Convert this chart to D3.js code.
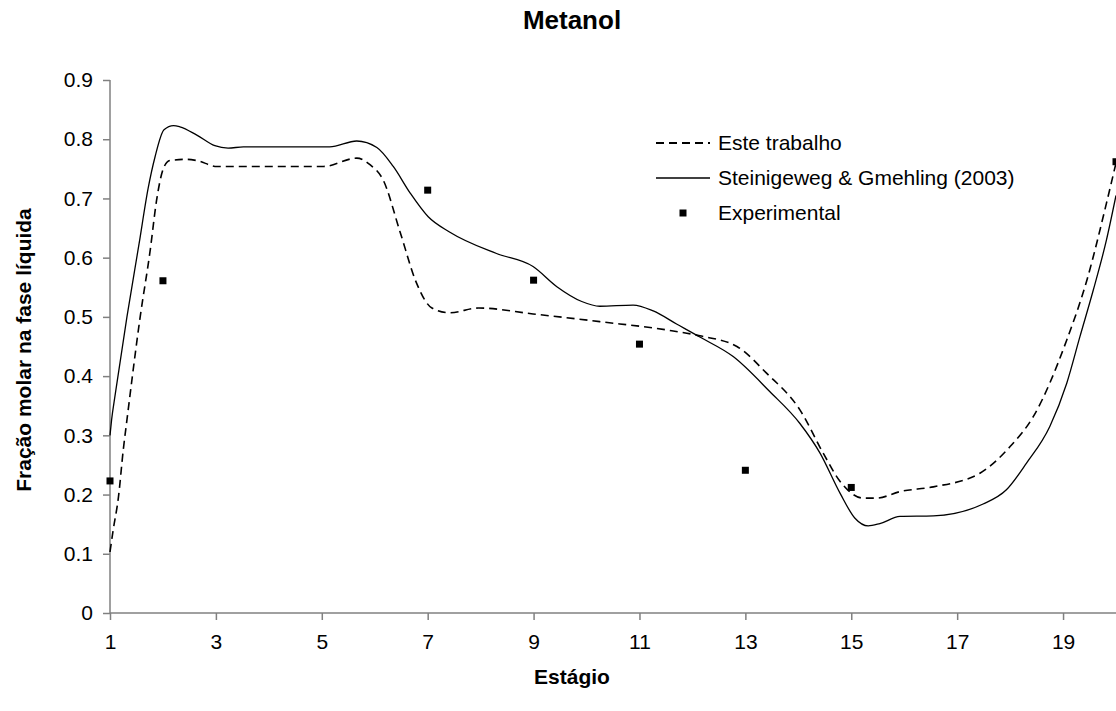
<!DOCTYPE html>
<html>
<head>
<meta charset="utf-8">
<script src="https://d3js.org/d3.v7.min.js"></script>
<style>
  html, body { margin: 0; padding: 0; background: #fff; }
  svg { display: block; font-family: "Liberation Sans", Arial, sans-serif; }
</style>
</head>
<body>
<svg id="chart" width="1116" height="711"></svg>
<script>
// values (stage, fraction)
const esteStages = [1.00, 1.06, 1.16, 1.25, 1.32, 1.57, 1.76, 1.88, 2.01, 2.13, 2.45, 2.64, 3.02, 5.03, 5.66, 5.91, 6.16, 6.48, 6.79, 7.08, 7.42, 7.96, 8.99, 10.25, 11.51, 12.14, 12.84, 13.40, 14.03, 14.47, 14.79, 15.23, 15.48, 15.92, 16.55, 17.43, 18.00, 18.44, 19.07, 19.45, 19.82, 20.00];
const esteValues = [0.103, 0.140, 0.196, 0.275, 0.326, 0.500, 0.613, 0.697, 0.751, 0.764, 0.766, 0.764, 0.754, 0.754, 0.768, 0.757, 0.731, 0.643, 0.557, 0.515, 0.507, 0.515, 0.505, 0.492, 0.478, 0.468, 0.450, 0.405, 0.343, 0.270, 0.222, 0.194, 0.194, 0.205, 0.213, 0.236, 0.281, 0.332, 0.461, 0.562, 0.692, 0.760];

const steinStages = [1.00, 1.03, 1.10, 1.32, 1.55, 1.72, 1.85, 2.02, 2.20, 2.32, 2.64, 2.98, 3.23, 3.52, 5.15, 5.66, 6.04, 6.35, 6.67, 7.01, 7.42, 8.30, 8.99, 9.44, 9.91, 10.25, 10.88, 11.26, 11.70, 12.14, 12.77, 13.46, 14.03, 14.41, 14.79, 15.07, 15.32, 15.54, 15.92, 16.55, 17.49, 17.93, 18.31, 18.75, 19.07, 19.32, 19.57, 19.82, 20.00];
const steinValues = [0.300, 0.326, 0.370, 0.500, 0.624, 0.717, 0.770, 0.816, 0.823, 0.821, 0.807, 0.789, 0.785, 0.787, 0.787, 0.797, 0.786, 0.754, 0.709, 0.669, 0.643, 0.607, 0.585, 0.551, 0.526, 0.518, 0.520, 0.510, 0.488, 0.466, 0.433, 0.374, 0.320, 0.270, 0.202, 0.160, 0.147, 0.151, 0.163, 0.164, 0.184, 0.208, 0.253, 0.315, 0.388, 0.467, 0.545, 0.630, 0.705];

const expStages = [1, 2, 7, 9, 11, 13, 15, 20];
const expValues = [0.223, 0.561, 0.714, 0.562, 0.454, 0.241, 0.212, 0.762];

const xTicks = [1, 3, 5, 7, 9, 11, 13, 15, 17, 19];
const yTicks = [0, 0.1, 0.2, 0.3, 0.4, 0.5, 0.6, 0.7, 0.8, 0.9];

const seriesNames = ['Este trabalho', 'Steinigeweg & Gmehling (2003)', 'Experimental'];

const AXIS_COLOR = '#808080';
const FONT_SIZE = 21;

const svg = d3.select('#chart');

const x = d3.scaleLinear().domain([1, 20]).range([110, 1116]);
const y = d3.scaleLinear().domain([0, 0.9]).range([613, 80]);

drawAxes();
drawSeries();
drawLegend();
drawTitles();

function drawAxes() {
  const xAxis = svg.append('g')
    .attr('transform', 'translate(0,613)')
    .call(d3.axisBottom(x).tickValues(xTicks).tickSize(7).tickPadding(14).tickFormat(d3.format('d')));

  const yAxis = svg.append('g')
    .attr('transform', 'translate(110,0)')
    .call(d3.axisLeft(y).tickValues(yTicks).tickSize(7).tickPadding(10).tickFormat(d => d === 0 ? '0' : d3.format('.1f')(d)));

  [xAxis, yAxis].forEach(axis => {
    axis.select('.domain').attr('stroke', AXIS_COLOR).attr('stroke-width', 1.5);
    axis.selectAll('.tick line').attr('stroke', AXIS_COLOR).attr('stroke-width', 1.5);
    axis.selectAll('.tick text')
      .attr('fill', '#000')
      .attr('font-size', FONT_SIZE)
      .attr('font-family', '"Liberation Sans", Arial, sans-serif');
  });

  // domain path draws outer ticks, keep only the axis line
  xAxis.select('.domain').attr('d', `M${x(1)},0H${x(20)}`);
  yAxis.select('.domain').attr('d', `M0,${y(0.9)}V${y(0)}`);
}

function drawSeries() {
  const line = d3.line()
    .x(d => x(d[0]))
    .y(d => y(d[1]))
    .curve(d3.curveMonotoneX);

  svg.append('path')
    .datum(d3.zip(steinStages, steinValues))
    .attr('fill', 'none')
    .attr('stroke', '#000')
    .attr('stroke-width', 1.3)
    .attr('d', line);

  svg.append('path')
    .datum(d3.zip(esteStages, esteValues))
    .attr('fill', 'none')
    .attr('stroke', '#000')
    .attr('stroke-width', 1.6)
    .attr('stroke-dasharray', '8,5')
    .attr('d', line);

  svg.append('g')
    .selectAll('rect')
    .data(d3.zip(expStages, expValues))
    .join('rect')
    .attr('x', d => x(d[0]) - 3.5)
    .attr('y', d => y(d[1]) - 3.5)
    .attr('width', 7)
    .attr('height', 7)
    .attr('fill', '#000');
}

function drawLegend() {
  const legend = svg.append('g').attr('transform', 'translate(656,143)');
  const rowHeight = 35;

  seriesNames.forEach((name, i) => {
    const row = legend.append('g').attr('transform', `translate(0,${i * rowHeight})`);

    if (i === 0) {
      row.append('line')
        .attr('x1', 0).attr('x2', 54).attr('y1', 0).attr('y2', 0)
        .attr('stroke', '#000').attr('stroke-width', 2).attr('stroke-dasharray', '8,5');
    } else if (i === 1) {
      row.append('line')
        .attr('x1', 0).attr('x2', 54).attr('y1', 0).attr('y2', 0)
        .attr('stroke', '#000').attr('stroke-width', 1.3);
    } else {
      row.append('rect')
        .attr('x', 27 - 3.5).attr('y', -3.5).attr('width', 7).attr('height', 7)
        .attr('fill', '#000');
    }

    row.append('text')
      .attr('x', 62)
      .attr('y', 0)
      .attr('dy', '0.35em')
      .attr('font-size', FONT_SIZE)
      .attr('fill', '#000')
      .text(name);
  });
}

function drawTitles() {
  svg.append('text')
    .attr('x', 572)
    .attr('y', 20)
    .attr('dy', '0.35em')
    .attr('text-anchor', 'middle')
    .attr('font-size', 26)
    .attr('font-weight', 'bold')
    .text('Metanol');

  svg.append('text')
    .attr('x', 572)
    .attr('y', 677)
    .attr('dy', '0.35em')
    .attr('text-anchor', 'middle')
    .attr('font-size', FONT_SIZE)
    .attr('font-weight', 'bold')
    .text('Estágio');

  svg.append('text')
    .attr('transform', 'translate(24,350) rotate(-90)')
    .attr('dy', '0.35em')
    .attr('text-anchor', 'middle')
    .attr('font-size', FONT_SIZE)
    .attr('font-weight', 'bold')
    .text('Fração molar na fase líquida');
}
</script>
</body>
</html>
